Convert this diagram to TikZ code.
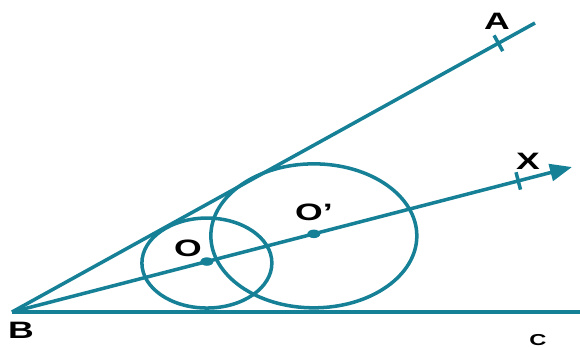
\documentclass[tikz,border=0pt]{standalone}
\usepackage{graphicx}
\usepackage{fontspec}
\setmainfont{Liberation Sans}
\usetikzlibrary{arrows.meta,calc}
\definecolor{geoteal}{RGB}{22,128,150}
\newcommand{\widelbl}[1]{\scalebox{1.5}[1]{#1}}
\tikzset{
  ray/.style={geoteal, line width=2pt},
  ptlabel/.style={font=\fontsize{13.5}{16}\selectfont\bfseries, inner sep=0pt},
}

\begin{document}
\begin{tikzpicture}[x=0.02cm, y=-0.02cm]
        \useasboundingbox (0,0) rectangle (580,347);

        % Points of the angle
        \coordinate (B) at (12,312);
        \coordinate (A) at (535,23);
        \coordinate (X) at (572,167);
        \coordinate (C) at (580,312);
        \coordinate (O) at ($(B)!0.348!(X)$);
        \coordinate (Op) at ($(B)!0.539!(X)$);

        % Arms and bisector
        \draw[ray] (B) -- (A);
        \draw[ray] (B) -- (C);
        \draw[ray, -{Triangle[length=0.44cm, width=0.34cm]}] (B) -- (X);

        % Tick marks
        \coordinate (tA) at ($(B)!0.93!(A)$);
        \coordinate (tX) at ($(B)!0.904!(X)$);
        \draw[ray] ($(tA)!0.18cm!90:(A)$) -- ($(tA)!0.18cm!-90:(A)$);
        \draw[ray] ($(tX)!0.18cm!90:(X)$) -- ($(tX)!0.18cm!-90:(X)$);

        % Circles
        \draw[ray] ([yshift=-0.03cm]O) ellipse [x radius=1.3cm, y radius=0.9cm];
        \draw[ray] ([yshift=-0.04cm]Op) ellipse [x radius=2.06cm, y radius=1.44cm];

        % Centres
        \fill[geoteal] (O) ellipse [x radius=0.13cm, y radius=0.085cm];
        \fill[geoteal] (Op) ellipse [x radius=0.13cm, y radius=0.085cm];

        % Labels
        \node[ptlabel] (lA) at (497,21) {\widelbl{A}};
        \node[ptlabel] (lX) at (528,161) {\widelbl{X}};
        \node[ptlabel] (lO) at (188,248) {\widelbl{O}};
        \node[ptlabel] (lOp) at (314,212) {\widelbl{O’}};
        \node[ptlabel] (lB) at (21,330) {\widelbl{B}};
        \node[ptlabel, font=\fontsize{9}{11}\selectfont\bfseries] (lC) at (538,340) {\widelbl{C}};

\end{tikzpicture}
\end{document}
